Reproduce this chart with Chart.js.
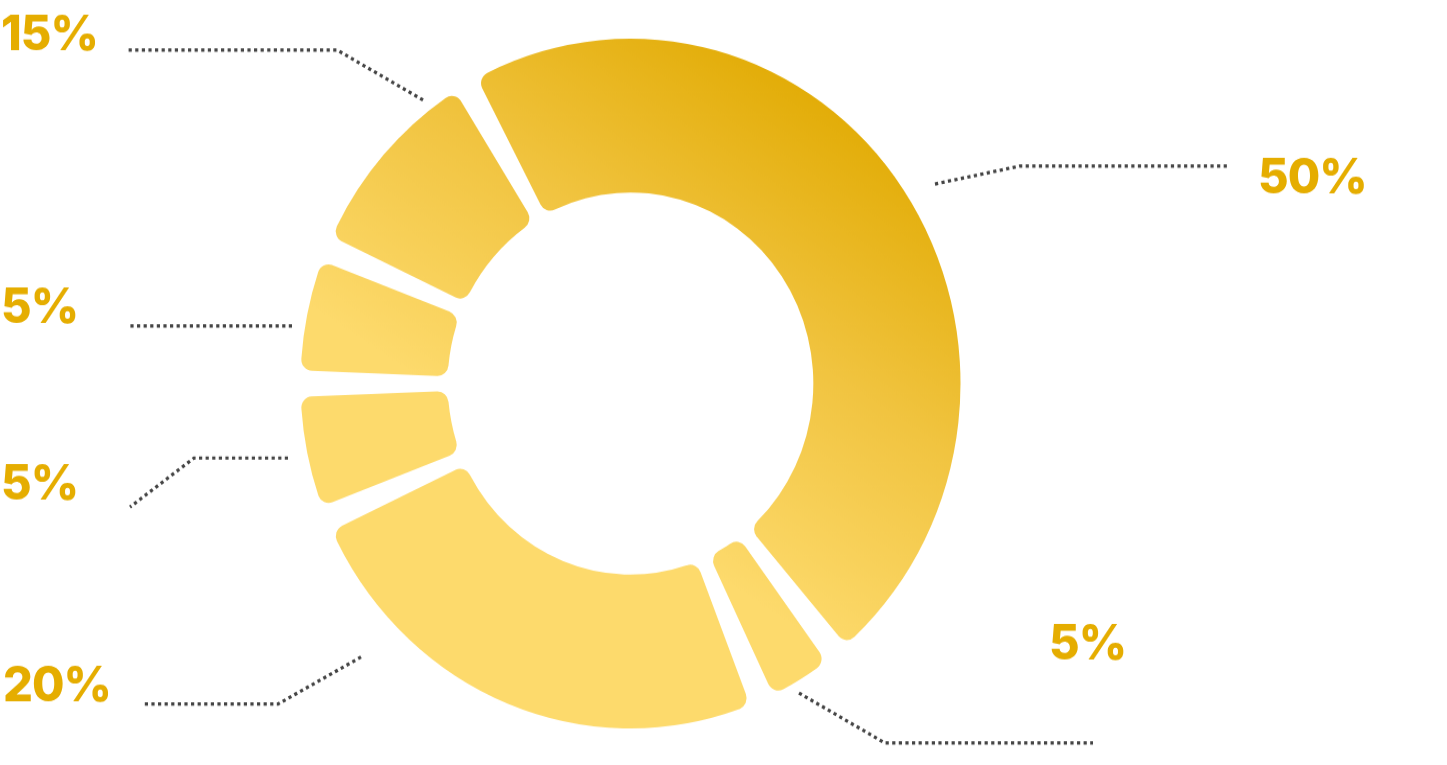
<!DOCTYPE html>
<html>
<head>
<meta charset="utf-8">
<script src="https://cdn.jsdelivr.net/npm/chart.js@4.4.1/dist/chart.umd.min.js"></script>
<style>
html,body{margin:0;padding:0;background:#ffffff;overflow:hidden;}
</style>
</head>
<body>
<canvas id="c" width="1447" height="732" style="display:block;width:1447px;height:765px;"></canvas>
<script>
// ---- data (clockwise from the top-left gap) ----
const percentLabels = ['50%', '5%', '20%', '5%', '5%', '15%'];
const arcShares = [47.6, 4.2, 25.1, 6.4, 6.4, 10.3]; // share of the ring each slice occupies (incl. half gaps), %
const GAP_SHARE = 1.22; // empty wedge between slices, % of the circle

// ---- style ----
const SY = 765 / 732;               // vertical stretch of the canvas
const GOLD_DARK = '#e2ac06';
const GOLD_MID = '#f1c440';
const GOLD_LIGHT = '#fdda6c';
const LABEL_COLOR = '#e5ad00';
const LEADER_COLOR = '#444444';

// callout layout (screen px): leader polyline from the ring outwards, label anchor
const calloutLayout = [
  { pts: [[935, 184], [1020, 166], [1228, 166]], text: [1258, 193] },
  { pts: [[799, 693], [885, 743], [1093, 743]], text: [1049, 659] },
  { pts: [[361, 657], [278, 704], [143, 704]], text: [3, 701] },
  { pts: [[288, 458], [194, 458], [130, 507]], text: [1, 500] },
  { pts: [[292, 326], [129, 326]], text: [1, 323] },
  { pts: [[423, 100], [337, 50], [128, 50]], text: [1, 50] }
];

// build dataset: each slice followed by a transparent spacer wedge
const ringData = [];
arcShares.forEach(v => { ringData.push(v - GAP_SHARE); ringData.push(GAP_SHARE); });
const ringLabels = [];
percentLabels.forEach(l => { ringLabels.push(l); ringLabels.push(''); });

let gradCache = null;
function goldGradient(chart) {
  if (gradCache) return gradCache;
  const c = chart.ctx;
  const g = c.createLinearGradient(830, 92, 590, 470);
  g.addColorStop(0, GOLD_DARK);
  g.addColorStop(0.5, GOLD_MID);
  g.addColorStop(1, GOLD_LIGHT);
  gradCache = g;
  return g;
}

const calloutPlugin = {
  id: 'callouts',
  afterDraw(chart) {
    const c = chart.ctx;
    c.save();
    c.lineWidth = 3.2;
    c.strokeStyle = LEADER_COLOR;
    c.setLineDash([3.2, 3.4]);
    c.lineCap = 'butt';
    calloutLayout.forEach((co) => {
      c.beginPath();
      co.pts.forEach((p, k) => {
        const x = p[0], y = p[1] / SY;
        if (k === 0) c.moveTo(x, y); else c.lineTo(x, y);
      });
      c.stroke();
    });
    c.setLineDash([]);
    c.fillStyle = LABEL_COLOR;
    c.font = '800 47px Inter, "Noto Sans", sans-serif';
    if ('letterSpacing' in c) c.letterSpacing = '-1px';
    c.textAlign = 'left';
    c.textBaseline = 'alphabetic';
    calloutLayout.forEach((co, i) => {
      c.fillText(percentLabels[i], co.text[0], co.text[1] / SY);
    });
    c.restore();
  }
};

new Chart(document.getElementById('c'), {
  type: 'doughnut',
  data: {
    labels: ringLabels,
    datasets: [{
      data: ringData,
      backgroundColor: (ctx) => (ctx.dataIndex % 2 === 0 ? goldGradient(ctx.chart) : 'rgba(0,0,0,0)'),
      borderWidth: 0,
      borderRadius: (ctx) => (ctx.dataIndex % 2 === 0 ? 11 : 0),
      hoverOffset: 0
    }]
  },
  options: {
    responsive: false,
    animation: false,
    events: [],
    rotation: -27.7,
    radius: 330,
    cutout: '55.4%',
    layout: { padding: { left: 0, right: 186, top: 2, bottom: 0 } },
    plugins: { legend: { display: false }, tooltip: { enabled: false } }
  },
  plugins: [calloutPlugin]
});
</script>
</body>
</html>
